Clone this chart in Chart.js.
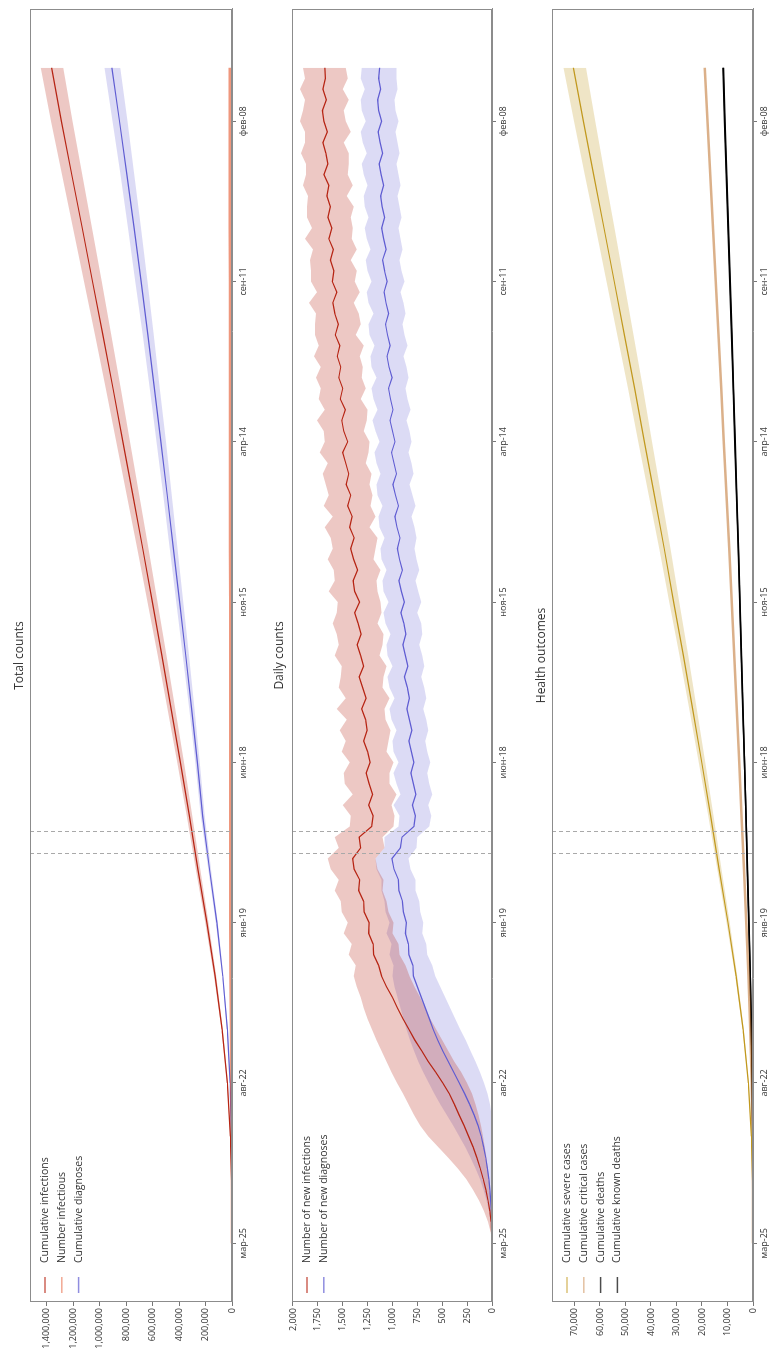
<!DOCTYPE html>
<html>
<head>
<meta charset="utf-8">
<script src="https://cdn.jsdelivr.net/npm/chart.js@4.4.0/dist/chart.umd.min.js"></script>
<style>
  html, body { margin: 0; padding: 0; background: #fff; overflow: hidden; width: 773px; height: 1366px; }
  /* the figure is laid out landscape, then turned a quarter turn to the left */
  #fig { position: absolute; left: 0; top: 0; width: 1366px; height: 773px; background: #fff;
         transform-origin: 0 0; transform: translate(0, 1366px) rotate(-90deg); }
  #fig canvas { position: absolute; left: 0; }
</style>
</head>
<body>
<div id="fig">
  <canvas id="c1" width="1366" height="262" style="top:0px"></canvas>
  <canvas id="c2" width="1366" height="260" style="top:262px"></canvas>
  <canvas id="c3" width="1366" height="251" style="top:522px"></canvas>
</div>
<script>
// ---- x axis (days since start) ----
const tickDays = [0, 150, 300, 450, 600, 750, 900, 1050]
const tickLabels = ['мар-25', 'авг-22', 'янв-19', 'июн-18', 'ноя-15', 'апр-14', 'сен-11', 'фев-08']
const interventionDays = [364, 385]

// ---- total counts / health outcomes, every 50 days ----
const days50 = [0, 50, 100, 150, 200, 250, 300, 350, 400, 450, 500, 550, 600, 650, 700, 750, 800, 850, 900, 950, 1000, 1050, 1100]
const cumInfections = [0, 2000, 12000, 35000, 75000, 128000, 190000, 258000, 322000, 390000, 460000, 530000, 602000, 675000, 750000, 825000, 900000, 977000, 1055000, 1133000, 1212000, 1290000, 1364000]
const cumInfectionsHi = [0, 2200, 13000, 37500, 80000, 136000, 202000, 274000, 342000, 414000, 488000, 562000, 639000, 716000, 796000, 875000, 955000, 1037000, 1119000, 1202000, 1286000, 1369000, 1447000]
const cumInfectionsLo = [0, 1800, 11000, 32500, 70000, 119000, 177000, 241000, 301000, 364000, 430000, 495000, 563000, 631000, 701000, 771000, 841000, 913000, 986000, 1059000, 1133000, 1206000, 1276000]
const nInfectious = [0, 600, 2500, 5500, 8500, 11000, 12500, 13500, 13000, 13200, 13500, 13800, 14000, 14300, 14600, 14900, 15200, 15500, 15800, 16100, 16400, 16700, 17000]
const cumDiagnoses = [0, 500, 4000, 14000, 35000, 70000, 115000, 170000, 222000, 262000, 305000, 350000, 396000, 443000, 490000, 538000, 587000, 637000, 688000, 741000, 795000, 851000, 909000]
const cumDiagnosesHi = [0, 550, 4300, 15000, 37500, 74500, 122000, 180500, 236000, 278000, 324000, 372000, 421000, 470000, 520000, 571000, 623000, 676000, 731000, 787000, 844000, 904000, 965000]
const cumDiagnosesLo = [0, 450, 3700, 13000, 32500, 65000, 107000, 158000, 206000, 244000, 284000, 326000, 368000, 412000, 456000, 500000, 546000, 592000, 640000, 689000, 739000, 791000, 846000]

const cumSevere = [0, 100, 600, 1800, 3900, 6600, 9800, 13300, 16600, 20100, 23700, 27300, 31100, 34800, 38700, 42600, 46400, 50400, 54400, 58400, 62500, 66500, 70400]
const cumSevereHi = [0, 110, 640, 1900, 4120, 6970, 10350, 14050, 17530, 21230, 25030, 28830, 32840, 36750, 40870, 44990, 49000, 53220, 57450, 61670, 66000, 70220, 74300]
const cumSevereLo = [0, 90, 560, 1670, 3630, 6140, 9110, 12370, 15440, 18690, 22040, 25390, 28920, 32360, 35990, 39620, 43150, 46870, 50590, 54310, 58130, 61850, 65500]
const cumCritical = [0, 30, 160, 480, 1050, 1770, 2630, 3570, 4460, 5400, 6360, 7330, 8350, 9340, 10390, 11440, 12460, 13530, 14610, 15680, 16780, 17860, 18900]
const cumDeaths = [0, 20, 100, 300, 650, 1110, 1640, 2230, 2780, 3370, 3970, 4580, 5210, 5830, 6490, 7140, 7780, 8450, 9120, 9790, 10480, 11150, 11800]
const cumKnownDeaths = [0, 15, 90, 280, 620, 1070, 1590, 2170, 2710, 3290, 3880, 4480, 5100, 5710, 6350, 6990, 7620, 8280, 8940, 9600, 10270, 10930, 11570]

// ---- daily counts, every 10 days (0..1100) ----
const days10 = []
for (let d = 0; d <= 1100; d += 10) days10.push(d)
const newInfections = [0, 3, 10, 22, 40, 62, 88, 118, 152, 190, 235, 280, 330, 378, 430, 495, 565, 640, 705, 775,
  835, 895, 950, 1000, 1060, 1110, 1140, 1190, 1195, 1240, 1235, 1285, 1290, 1340, 1330, 1385, 1400, 1320, 1335, 1210,
  1195, 1240, 1200, 1235, 1265, 1225, 1250, 1290, 1255, 1270,
  1310, 1265, 1300, 1335, 1290, 1320, 1355, 1315, 1345, 1380,
  1330, 1380, 1395, 1350, 1390, 1420, 1385, 1430, 1405, 1450,
  1420, 1465, 1440, 1470, 1500, 1450, 1490, 1510, 1475, 1525,
  1500, 1540, 1520, 1555, 1530, 1575, 1545, 1580, 1600, 1560,
  1605, 1590, 1625, 1595, 1640, 1610, 1650, 1625, 1660, 1640,
  1690, 1650, 1670, 1700, 1655, 1690, 1705, 1665, 1700, 1675, 1680]
const newInfectionsHi = [0, 12, 40, 80, 130, 190, 260, 345, 440, 540, 640, 720, 785, 840, 895, 955, 1010, 1060, 1110, 1160,
  1205, 1250, 1290, 1320, 1360, 1390, 1370, 1440, 1410, 1490, 1450, 1510, 1520, 1580, 1540, 1620, 1650, 1540, 1580, 1430,
  1420, 1500, 1400, 1480, 1490, 1430, 1510, 1470, 1530, 1460,
  1560, 1470, 1540, 1520, 1510, 1580, 1540, 1560, 1600, 1560,
  1550, 1640, 1580, 1590, 1650, 1600, 1620, 1680, 1600, 1690,
  1640, 1670, 1700, 1650, 1730, 1680, 1690, 1760, 1680, 1740,
  1720, 1770, 1720, 1790, 1740, 1780, 1780, 1770, 1840, 1760,
  1820, 1820, 1830, 1800, 1880, 1810, 1860, 1860, 1850, 1900,
  1870, 1870, 1920, 1880, 1880, 1930, 1900, 1880, 1930, 1880, 1900]
const newInfectionsLo = [0, 0, 2, 6, 12, 20, 30, 42, 56, 72, 90, 110, 135, 165, 200, 250, 310, 380, 440, 500,
  560, 620, 670, 720, 780, 830, 870, 930, 940, 1000, 990, 1040, 1060, 1100, 1090, 1150, 1170, 1080, 1100, 990,
  980, 1010, 960, 1030, 1030, 990, 1060, 1040, 1020, 1070,
  1080, 1030, 1100, 1090, 1060, 1130, 1100, 1090, 1150, 1110,
  1120, 1150, 1160, 1120, 1190, 1170, 1150, 1230, 1170, 1220,
  1200, 1230, 1210, 1270, 1240, 1230, 1290, 1260, 1250, 1320,
  1270, 1310, 1300, 1330, 1290, 1370, 1320, 1340, 1390, 1330,
  1380, 1360, 1420, 1360, 1410, 1400, 1420, 1390, 1460, 1400,
  1450, 1440, 1440, 1490, 1420, 1470, 1490, 1440, 1500, 1450, 1470]
const newDiagnoses = [0, 1, 3, 7, 13, 21, 32, 46, 63, 84, 108, 140, 180, 225, 275, 330, 385, 440, 495, 545,
  590, 630, 670, 710, 750, 790, 795, 835, 840, 870, 860, 890, 900, 935, 940, 985, 1005, 920, 905, 785,
  770, 800, 765, 790, 815, 785, 810, 835, 805, 830,
  855, 830, 850, 880, 845, 870, 895, 865, 885, 915,
  880, 910, 935, 900, 930, 950, 925, 955, 975, 940,
  970, 995, 960, 985, 1010, 975, 1000, 1025, 995, 1020,
  1040, 1005, 1035, 1055, 1025, 1050, 1070, 1040, 1065, 1085,
  1055, 1080, 1100, 1065, 1090, 1110, 1080, 1105, 1120, 1090,
  1115, 1135, 1100, 1125, 1145, 1110, 1140, 1150, 1120, 1140, 1130]
const newDiagnosesHi = [0, 4, 14, 30, 55, 85, 120, 165, 215, 270, 330, 390, 455, 520, 580, 635, 690, 740, 785, 825,
  860, 890, 920, 950, 980, 1000, 990, 1030, 1010, 1060, 1030, 1070, 1080, 1110, 1110, 1160, 1170, 1080, 1080, 940,
  930, 990, 920, 960, 990, 940, 990, 1000, 960, 1010,
  1030, 980, 1030, 1050, 1000, 1050, 1060, 1020, 1070, 1090,
  1040, 1090, 1100, 1060, 1110, 1120, 1080, 1130, 1140, 1100,
  1150, 1160, 1120, 1160, 1180, 1130, 1170, 1200, 1150, 1190,
  1210, 1160, 1210, 1220, 1180, 1230, 1240, 1190, 1240, 1260,
  1210, 1250, 1270, 1220, 1260, 1280, 1240, 1280, 1290, 1250,
  1290, 1310, 1260, 1300, 1320, 1270, 1310, 1320, 1280, 1320, 1310]
const newDiagnosesLo = [0, 0, 0, 0, 0, 0, 0, 0, 0, 0, 0, 0, 5, 20, 45, 80, 120, 165, 215, 265,
  320, 370, 420, 470, 520, 570, 600, 650, 660, 700, 690, 720, 730, 770, 770, 820, 840, 760, 750, 630,
  610, 640, 600, 630, 650, 620, 650, 670, 640, 660,
  690, 660, 680, 710, 680, 700, 730, 700, 710, 750,
  710, 740, 770, 730, 760, 780, 760, 780, 810, 770,
  800, 830, 790, 810, 840, 810, 830, 860, 820, 850,
  870, 840, 860, 890, 850, 880, 900, 870, 890, 920,
  880, 910, 930, 900, 920, 940, 910, 930, 950, 920,
  940, 960, 930, 950, 970, 940, 970, 980, 950, 960, 960]

const C = {
  infections: '#b62413', infectious: '#e45226', diagnoses: '#5f5cd2',
  severe: '#c1981d', critical: '#b86113', deaths: '#000000'
}
const FONT = 'Open Sans'

const xy = (xs, ys) => xs.map((x, i) => ({ x: x, y: ys[i] }))
const fmt = v => v.toLocaleString('en-US')

function band(xs, lo, hi, color) {
  return [
    { data: xy(xs, lo), borderWidth: 0, pointRadius: 0, fill: false, order: 2 },
    { data: xy(xs, hi), borderWidth: 0, pointRadius: 0, fill: '-1', backgroundColor: color, order: 2 }
  ]
}
function line(xs, ys, color, w) {
  return { data: xy(xs, ys), borderColor: color, borderWidth: w || 1.2, pointRadius: 0, fill: false, order: 0 }
}

// frame, intervention lines, title and legend drawn on top of the chart
const decor = {
  id: 'decor',
  afterDraw(chart, args, o) {
    const ctx = chart.ctx, a = chart.chartArea, sx = chart.scales.x
    ctx.save()
    ctx.strokeStyle = '#a9a9a9'
    ctx.lineWidth = 1
    ctx.setLineDash([4, 3])
    interventionDays.forEach(d => {
      const px = Math.round(sx.getPixelForValue(d)) + 0.5
      ctx.beginPath(); ctx.moveTo(px, a.top); ctx.lineTo(px, a.bottom); ctx.stroke()
    })
    ctx.setLineDash([])
    ctx.strokeStyle = '#8c8c8c'
    ctx.strokeRect(a.left + 0.5, a.top + 0.5, a.right - a.left - 1, a.bottom - a.top - 1)

    ctx.fillStyle = '#333'
    ctx.font = '12px "' + FONT + '"'
    ctx.textAlign = 'center'
    ctx.textBaseline = 'middle'
    ctx.fillText(o.title, (a.left + a.right) / 2, o.titleY)

    ctx.font = '10.5px "' + FONT + '"'
    ctx.textAlign = 'left'
    o.legend.forEach((e, i) => {
      const y = a.top + 15 + i * 16.8
      ctx.strokeStyle = e[1]
      ctx.lineWidth = 1.5
      ctx.beginPath(); ctx.moveTo(a.left + 9, y); ctx.lineTo(a.left + 25, y); ctx.stroke()
      ctx.fillText(e[0], a.left + 39, y)
    })
    ctx.restore()
  }
}

function makeChart(id, datasets, ymax, yticks, xAxisH, title, titleY, legend) {
  return new Chart(document.getElementById(id), {
    type: 'line',
    data: { datasets: datasets },
    options: {
      responsive: false,
      animation: false,
      layout: { padding: { top: 30, right: 9, left: 0, bottom: 0 } },
      plugins: { legend: { display: false }, tooltip: { enabled: false },
        decor: { title: title, titleY: titleY, legend: legend } },
      scales: {
        x: {
          type: 'linear', min: -55, max: 1155,
          afterBuildTicks: s => { s.ticks = tickDays.map(v => ({ value: v })) },
          afterFit: s => { s.height = xAxisH },
          ticks: { callback: v => tickLabels[tickDays.indexOf(v)], maxRotation: 0, minRotation: 0, autoSkip: false,
                   font: { family: FONT, size: 9 }, color: '#333', padding: 2 },
          grid: { display: true, drawOnChartArea: false, drawTicks: true, tickLength: 4, color: '#777' },
          border: { display: true, color: '#8c8c8c' }
        },
        y: {
          min: 0, max: ymax,
          afterBuildTicks: s => { s.ticks = yticks.map(v => ({ value: v })) },
          afterFit: s => { s.width = 64 },
          ticks: { callback: v => fmt(v), font: { family: FONT, size: 9 }, color: '#333', padding: 2 },
          grid: { display: true, drawOnChartArea: false, drawTicks: true, tickLength: 4, color: '#777' },
          border: { display: true, color: '#8c8c8c' }
        }
      }
    },
    plugins: [decor]
  })
}

makeChart('c1', [
  ...band(days50, cumInfectionsLo, cumInfectionsHi, 'rgba(182,36,19,0.25)'),
  line(days50, cumInfections, C.infections),
  line(days50, nInfectious, 'rgba(228,82,38,0.6)', 2.5),
  ...band(days50, cumDiagnosesLo, cumDiagnosesHi, 'rgba(95,92,210,0.22)'),
  line(days50, cumDiagnoses, C.diagnoses)
], 1528000, [0, 200000, 400000, 600000, 800000, 1000000, 1200000, 1400000], 30, 'Total counts', 20, [
  ['Cumulative infections', 'rgba(182,36,19,0.7)'],
  ['Number infectious', 'rgba(228,82,38,0.5)'],
  ['Cumulative diagnoses', 'rgba(95,92,210,0.7)']
])

makeChart('c2', [
  ...band(days10, newInfectionsLo, newInfectionsHi, 'rgba(182,36,19,0.25)'),
  line(days10, newInfections, C.infections),
  ...band(days10, newDiagnosesLo, newDiagnosesHi, 'rgba(95,92,210,0.22)'),
  line(days10, newDiagnoses, C.diagnoses)
], 2010, [0, 250, 500, 750, 1000, 1250, 1500, 1750, 2000], 30, 'Daily counts', 18, [
  ['Number of new infections', 'rgba(182,36,19,0.7)'],
  ['Number of new diagnoses', 'rgba(95,92,210,0.7)']
])

makeChart('c3', [
  ...band(days50, cumSevereLo, cumSevereHi, 'rgba(193,152,29,0.25)'),
  line(days50, cumSevere, C.severe),
  line(days50, cumCritical, 'rgba(184,97,19,0.5)', 2.5),
  line(days50, cumDeaths, C.deaths, 1.5),
  line(days50, cumKnownDeaths, C.deaths, 1.5)
], 78800, [0, 10000, 20000, 30000, 40000, 50000, 60000, 70000], 20, 'Health outcomes', 20, [
  ['Cumulative severe cases', 'rgba(193,152,29,0.6)'],
  ['Cumulative critical cases', 'rgba(184,97,19,0.4)'],
  ['Cumulative deaths', 'rgba(0,0,0,0.7)'],
  ['Cumulative known deaths', 'rgba(0,0,0,0.7)']
])
</script>
</body>
</html>
